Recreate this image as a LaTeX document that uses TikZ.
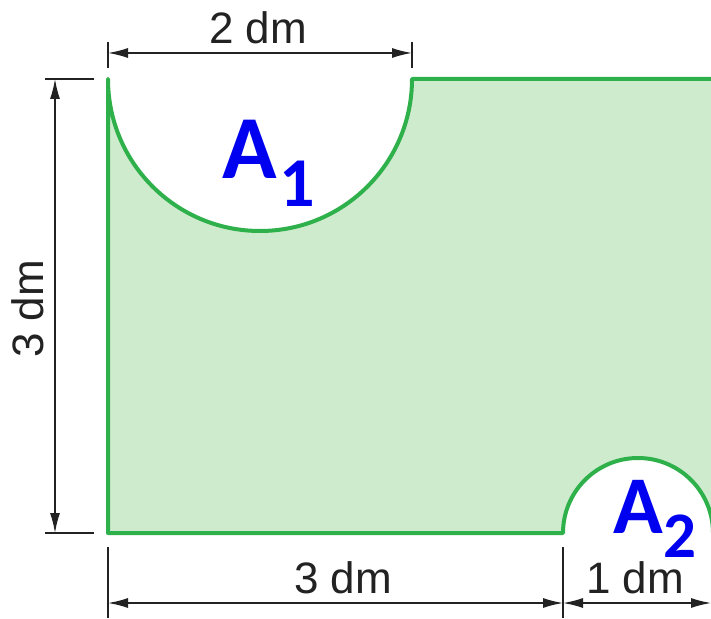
\documentclass[tikz,border=0pt]{standalone}
\usepackage{fontspec}
\setmainfont{Liberation Sans}
\newfontfamily\labfont{Carlito}
\usetikzlibrary{arrows.meta}
\definecolor{shapegreen}{RGB}{46,176,74}
\definecolor{shapefill}{RGB}{206,235,206}
\definecolor{labblue}{RGB}{0,0,240}
\definecolor{dimgray}{RGB}{34,34,34}
\begin{document}
\begin{tikzpicture}[x=1pt,y=1pt,
  dimline/.style={draw=dimgray,line width=1.5pt},
  dimarrow/.style={dimline,{Latex[length=20pt,width=10pt]}-{Latex[length=20pt,width=10pt]}},
  dimtext/.style={text=dimgray,font=\fontsize{44}{50}\selectfont,inner sep=0pt,anchor=base},
  areatext/.style={text=labblue,inner sep=0pt,anchor=base}]
\useasboundingbox (0,0) rectangle (711,618);
\fill[white] (0,0) rectangle (711,618);
\begin{scope}
  \clip (0,0) rectangle (711,618);
  \filldraw[fill=shapefill,draw=shapegreen,line width=4pt,line join=round]
    (108,539) arc[start angle=180,end angle=360,radius=152] -- (716,539) -- (716,85)
    -- (713,85) arc[start angle=0,end angle=180,radius=75] -- (108,85) -- cycle;
\end{scope}
% top dimension
\coordinate (t1) at (108,565);
\coordinate (t2) at (412,565);
\draw[dimline] (108,576) -- (108,550);
\draw[dimline] (412,576) -- (412,550);
\draw[dimarrow] (t1) -- (t2);
\node[dimtext] (d2) at (258,574) {2 dm};
% left dimension
\coordinate (l1) at (55,539);
\coordinate (l2) at (55,85);
\draw[dimline] (45,539) -- (94,539);
\draw[dimline] (45,85) -- (94,85);
\draw[dimarrow] (l1) -- (l2);
\node[dimtext,rotate=90] (d3l) at (43,309) {3 dm};
% bottom dimensions
\coordinate (b1) at (108,15);
\coordinate (b2) at (563,15);
\coordinate (b3) at (711,15);
\draw[dimline] (108,71) -- (108,0);
\draw[dimline] (563,71) -- (563,0);
\draw[dimarrow] (b1) -- (b2);
\draw[dimarrow] (b2) -- (b3);
\node[dimtext] (d3b) at (343,25) {3 dm};
\node[dimtext] (d1b) at (635,25) {1 dm};
% area labels
\node[areatext,font=\labfont\bfseries\fontsize{90}{100}\selectfont] (a1) at (249.5,439) {A};
\node[areatext,font=\labfont\bfseries\fontsize{70}{80}\selectfont] (s1) at (297.5,411) {1};
\node[areatext,font=\labfont\bfseries\fontsize{82}{92}\selectfont] (a2) at (638,85) {A};
\node[areatext,font=\labfont\bfseries\fontsize{65}{75}\selectfont] (s2) at (680,61) {2};
\end{tikzpicture}
\end{document}
